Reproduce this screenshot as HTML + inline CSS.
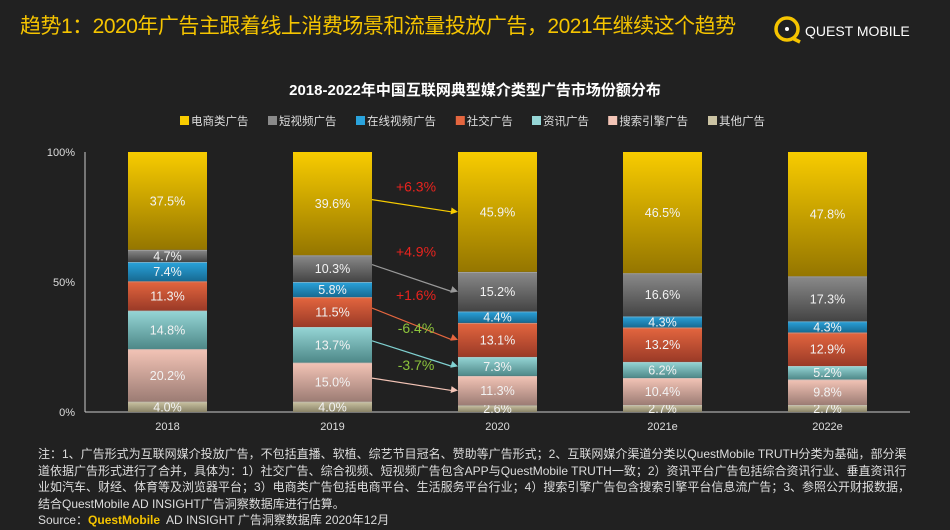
<!DOCTYPE html>
<html><head><meta charset="utf-8"><style>
body{margin:0;background:#212121;width:950px;height:530px;overflow:hidden;font-family:"Liberation Sans","Noto Sans CJK SC",sans-serif;}
.t{position:absolute;white-space:nowrap}
</style></head><body>
<div class="t" style="left:20px;top:10px;font-size:21px;color:#f5c400;letter-spacing:-0.5px;">趋势1：2020年广告主跟着线上消费场景和流量投放广告，2021年继续这个趋势</div>
<div style="position:absolute;left:772px;top:14px;">
<svg width="140" height="30"><circle cx="15" cy="15" r="11" fill="none" stroke="#f5c400" stroke-width="3.5"/><circle cx="15" cy="15" r="2" fill="#fff"/><path d="M20 24 L28 28" stroke="#f5c400" stroke-width="3.5"/>
<text x="33" y="22" fill="#fff" font-size="14" font-family="Liberation Sans">QUEST MOBILE</text></svg></div>
<div class="t" style="left:0;width:950px;text-align:center;top:79px;font-size:15px;font-weight:bold;color:#fff;">2018-2022年中国互联网典型媒介类型广告市场份额分布</div>
<svg id="chart" width="950" height="530" style="position:absolute;left:0;top:0" font-family="Liberation Sans, Noto Sans CJK SC, sans-serif">
<defs id="defs"></defs>
<g id="legend"></g><g id="axis"></g><g id="bars"></g><g id="arrows"></g>
</svg>
<div class="t" style="left:38px;top:446px;font-size:12px;line-height:16.5px;color:#ddd;white-space:normal;width:880px;">注：1、广告形式为互联网媒介投放广告，不包括直播、软植、综艺节目冠名、赞助等广告形式；2、互联网媒介渠道分类以QuestMobile TRUTH分类为基础，部分渠道依据广告形式进行了合并，具体为：1）社交广告、综合视频、短视频广告包含APP与QuestMobile TRUTH一致；2）资讯平台广告包括综合资讯行业、垂直资讯行业如汽车、财经、体育等及浏览器平台；3）电商类广告包括电商平台、生活服务平台行业；4）搜索引擎广告包含搜索引擎平台信息流广告；3、参照公开财报数据，结合QuestMobile AD INSIGHT广告洞察数据库进行估算。<br>Source：<b style="color:#f5c400">QuestMobile</b>&nbsp; AD INSIGHT 广告洞察数据库 2020年12月</div>
<script>
const categories=["2018","2019","2020","2021e","2022e"];
const seriesNames=["其他广告","搜索引擎广告","资讯广告","社交广告","在线视频广告","短视频广告","电商类广告"];
const other=[4.0,4.0,2.6,2.7,2.7];
const search=[20.2,15.0,11.3,10.4,9.8];
const info=[14.8,13.7,7.3,6.2,5.2];
const social=[11.3,11.5,13.1,13.2,12.9];
const video=[7.4,5.8,4.4,4.3,4.3];
const shortVideo=[4.7,10.3,15.2,16.6,17.3];
const ecommerce=[37.5,39.6,45.9,46.5,47.8];
const yTicks=[0,50,100];
const changeLabels=["+6.3%","+4.9%","+1.6%","-6.4%","-3.7%"];
const changeSeries=[6,5,3,2,1];
const legendOrder=["电商类广告","短视频广告","在线视频广告","社交广告","资讯广告","搜索引擎广告","其他广告"];

const series=[other,search,info,social,video,shortVideo,ecommerce];
const cols=[["#cbc3a3","#8a8468"],["#f3c4b6","#9c7c74"],["#96d6d6","#4e8888"],["#e4663f","#9a3a27"],["#2aa3dc","#176a92"],["#8a8a8a","#444"],["#f8cc00","#957600"]];
const legendCols=["#f8cc00","#8a8a8a","#2aa3dc","#e4663f","#96d6d6","#f3c4b6","#cbc3a3"];
const NS="http://www.w3.org/2000/svg";
const svg=document.getElementById('chart');
const y0=412,y1=152,x0=85,x1=910;
const yS=v=>y0-(y0-y1)*v/100;
const xC=i=>167.5+i*165;
const bw=79;
function mk(t,a,p){const e=document.createElementNS(NS,t);for(const k in a)e.setAttribute(k,a[k]);p.appendChild(e);return e;}
const defs=document.getElementById('defs');
cols.forEach((c,i)=>{const g=mk('linearGradient',{id:'g'+i,x1:0,y1:0,x2:0,y2:1},defs);mk('stop',{offset:0,'stop-color':c[0]},g);mk('stop',{offset:1,'stop-color':c[1]},g);});
// legend
const lg=document.getElementById('legend');
let lx=180;
legendOrder.forEach((n,i)=>{
 const r=mk('rect',{x:lx,y:116,width:9,height:9,fill:legendCols[i]},lg);
 
 
 const t=mk('text',{x:lx+11,y:125,fill:'#ddd','font-size':11.5},lg);t.textContent=n;
 
 
 lx+=11+n.length*11.8+18;
});
// axis
const ax=document.getElementById('axis');
mk('line',{x1:x0,y1:y1,x2:x0,y2:y0,stroke:'#ccc','stroke-width':1},ax);
mk('line',{x1:x0,y1:y0,x2:x1,y2:y0,stroke:'#ccc','stroke-width':1},ax);
yTicks.forEach(v=>{const t=mk('text',{x:75,y:yS(v)+4,fill:'#ddd','font-size':11,'text-anchor':'end'},ax);t.textContent=v+'%';
 
 });
// bars
const bg=document.getElementById('bars');
const segPos=[];
categories.forEach((c,i)=>{
 let acc=0;segPos[i]=[];
 series.forEach((s,k)=>{
  const v=s[i];const top=(k==series.length-1)?100:acc+v;
  const ya=yS(top),yb=yS(acc);
  const r=mk('rect',{x:xC(i)-bw/2,y:ya,width:bw,height:yb-ya,fill:'url(#g'+k+')'},bg);
  
  
  if(k<series.length-1) mk('line',{x1:xC(i)-bw/2,x2:xC(i)+bw/2,y1:ya+0.5,y2:ya+0.5,stroke:'#bbb','stroke-opacity':0.5},bg);
  segPos[i][k]=(ya+yb)/2;
  const t=mk('text',{x:xC(i),y:(ya+yb)/2+4.5,fill:'#f2f2f2','font-size':12.5,'text-anchor':'middle'},bg);
  t.textContent=v.toFixed(1)+'%';
  
  
  acc+=v;
 });
 const t=mk('text',{x:xC(i),y:430,fill:'#ddd','font-size':11,'text-anchor':'middle'},bg);t.textContent=c;
 
 
});
// arrows 2019 -> 2020
const ag=document.getElementById('arrows');
const arrowCols=["#f8cc00","#999","#e4663f","#7fd0d0","#f3c4b6"];
changeSeries.forEach((k,j)=>{
 const xa=xC(1)+bw/2,xb=xC(2)-bw/2;
 const ya=segPos[1][k]-4,yb=segPos[2][k];
 const ln=mk('line',{x1:xa,y1:ya,x2:xb-6,y2:yb,stroke:arrowCols[j],'stroke-width':1.2},ag);
 
 
 const ang=Math.atan2(yb-ya,xb-xa);
 const p=[[xb,yb],[xb-7*Math.cos(ang)+3.5*Math.sin(ang),yb-7*Math.sin(ang)-3.5*Math.cos(ang)],[xb-7*Math.cos(ang)-3.5*Math.sin(ang),yb-7*Math.sin(ang)+3.5*Math.cos(ang)]];
 mk('polygon',{points:p.map(q=>q.join(',')).join(' '),fill:arrowCols[j]},ag);
 const neg=changeLabels[j][0]=='-';
 const t=mk('text',{x:(xa+xb)/2+1,y:Math.min(ya,yb)-8,fill:neg?'#8cc43c':'#e8231e','font-size':14,'text-anchor':'middle'},ag);
 t.textContent=changeLabels[j];
 
 
});
</script>
</body></html>
